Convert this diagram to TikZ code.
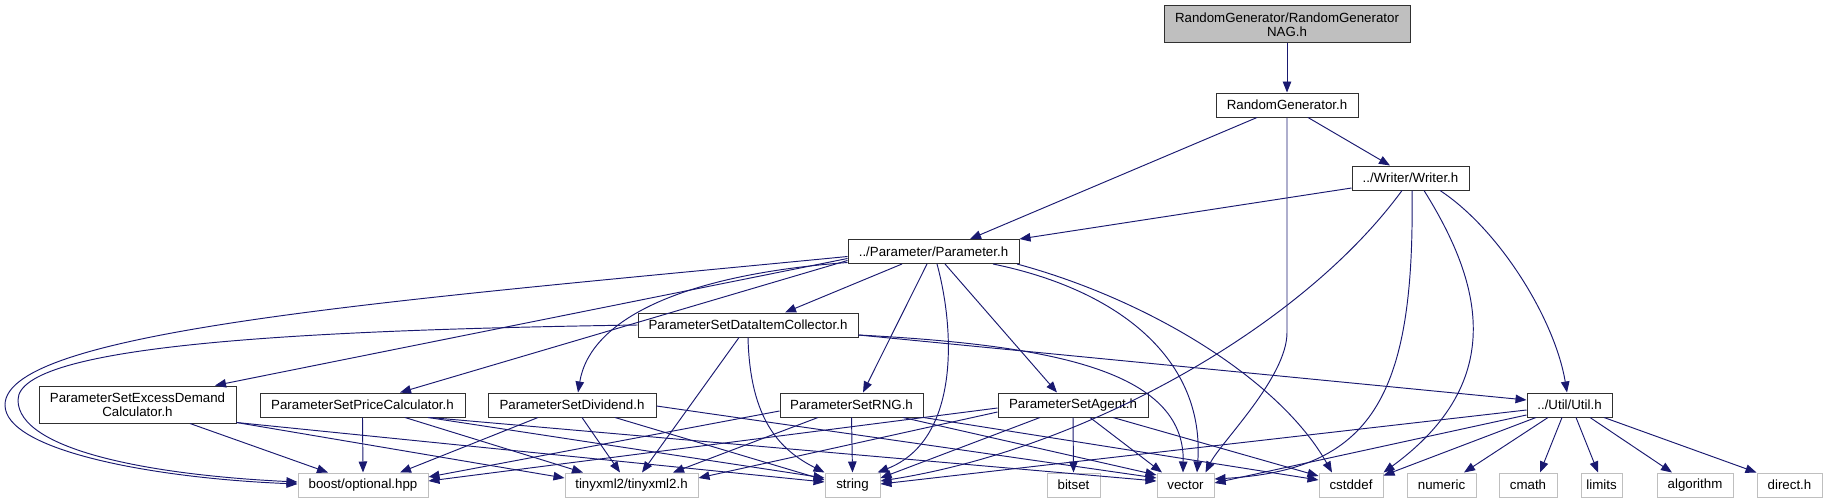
\documentclass[tikz,border=0pt]{standalone}
\usepackage{fontspec}
\setmainfont{Liberation Sans}
\usetikzlibrary{arrows.meta}
\definecolor{edgec}{HTML}{191970}
\definecolor{leafc}{HTML}{BFBFBF}
\definecolor{boxc}{HTML}{303030}
\begin{document}
\begin{tikzpicture}[x=1pt,y=-1pt,
  box/.style={draw=boxc, line width=1pt, fill=white, inner sep=0pt, minimum height=24pt,
    font=\fontsize{13.3}{14.2}\selectfont, align=center},
  leaf/.style={box, draw=leafc},
  dep/.style={draw=edgec, line width=0.95pt, -{Triangle[length=11pt,width=8.5pt]}},
]
\useasboundingbox (0,0) rectangle (1827,503);
% nodes
\node[box, fill=leafc, minimum width=246pt, minimum height=37pt] (nag) at (1287,24.5) {RandomGenerator/RandomGenerator\\NAG.h};
\node[box, minimum width=142pt] (rg) at (1287,105) {RandomGenerator.h};
\node[box, minimum width=117pt] (writer) at (1410.5,178) {../Writer/Writer.h};
\node[box, minimum width=171pt] (param) at (933.5,251.5) {../Parameter/Parameter.h};
\node[box, minimum width=220pt] (dic) at (748,325) {ParameterSetDataItemCollector.h};
\node[box, minimum width=197pt, minimum height=37pt] (excess) at (137.5,404.5) {ParameterSetExcessDemand\\Calculator.h};
\node[box, minimum width=205pt] (price) at (362.5,405) {ParameterSetPriceCalculator.h};
\node[box, minimum width=168pt] (divid) at (572,405) {ParameterSetDividend.h};
\node[box, minimum width=143pt] (rng) at (851.5,405) {ParameterSetRNG.h};
\node[box, minimum width=150pt] (agent) at (1073,405) {ParameterSetAgent.h};
\node[box, minimum width=85pt] (util) at (1569.5,405) {../Util/Util.h};
\node[leaf, minimum width=130pt] (boost) at (363,485) {boost/optional.hpp};
\node[leaf, minimum width=133pt] (tiny) at (631.5,485) {tinyxml2/tinyxml2.h};
\node[leaf, minimum width=55pt] (string) at (852.5,485) {string};
\node[leaf, minimum width=53pt] (bitset) at (1073.5,485) {bitset};
\node[leaf, minimum width=57pt] (vector) at (1185.5,485) {vector};
\node[leaf, minimum width=64pt] (cstddef) at (1351,485) {cstddef};
\node[leaf, minimum width=69pt] (numeric) at (1441.5,485) {numeric};
\node[leaf, minimum width=58pt] (cmath) at (1528,485) {cmath};
\node[leaf, minimum width=41pt] (limits) at (1601.5,485) {limits};
\node[leaf, minimum width=76pt] (algorithm) at (1695,485) {algorithm};
\node[leaf, minimum width=65pt] (direct) at (1789.5,485) {direct.h};
% edges
\draw[dep] (nag) -- (rg);
\draw[dep] ([xshift=-30pt]rg.south) -- ([xshift=36.5pt]param.north);
\draw[dep] ([xshift=21pt]rg.south) -- ([xshift=-20.5pt]writer.north);
\draw[dep] (rg.south) -- ++(0,215) .. controls +(0,45) and +(15,-30) .. ([xshift=20pt]vector.north);
\draw[dep] ([yshift=-10pt]writer.west) -- (param.north east);
\draw[dep] ([xshift=-8.5pt]writer.south) .. controls (1300,330) and (1080,450) .. ([yshift=4pt]string.east);
\draw[dep] ([xshift=1.5pt]writer.south) .. controls (1415,400) and (1370,470) .. ([yshift=6pt]vector.east);
\draw[dep] ([xshift=13.5pt]writer.south) .. controls (1480,280) and (1510,380) .. (cstddef.north east);
\draw[dep] ([xshift=29.5pt]writer.south) .. controls (1500,230) and (1555,320) .. ([xshift=-2.5pt]util.north);
% parameter
\draw[dep] ([yshift=-5pt]param.west) .. controls (400,300) and (5,330) .. (5,405) .. controls (5,450) and (150,478) .. ([yshift=1pt]boost.west);
\draw[dep] ([yshift=-7pt]param.west) -- ([xshift=77.5pt]excess.north);
\draw[dep] ([yshift=-9pt]param.west) -- ([xshift=37.5pt]price.north);
\draw[dep] ([yshift=-11pt]param.west) .. controls (680,275) and (590,320) .. ([xshift=6pt]divid.north);
\draw[dep] ([xshift=-31.5pt]param.south) -- ([xshift=37pt]dic.north);
\draw[dep] ([xshift=-6.5pt]param.south) -- ([xshift=11.5pt]rng.north);
\draw[dep] ([xshift=3.5pt]param.south) .. controls (955,330) and (960,440) .. ([xshift=-3pt]string.north east);
\draw[dep] ([xshift=11.5pt]param.south) -- ([xshift=-16pt]agent.north);
\draw[dep] ([xshift=59.5pt]param.south) .. controls (1120,290) and (1205,360) .. ([xshift=11.5pt]vector.north);
\draw[dep] ([xshift=83.5pt]param.south) .. controls (1150,300) and (1280,380) .. ([xshift=-19pt]cstddef.north);
% data item collector
\draw[dep] (dic.west) .. controls (300,330) and (18,345) .. (18,400) .. controls (18,450) and (150,475) .. ([yshift=3pt]boost.west);
\draw[dep] ([xshift=-9pt]dic.south) -- ([xshift=10.5pt]tiny.north);
\draw[dep] (dic.south) .. controls (750,420) and (780,450) .. (string.north west);
\draw[dep] ([yshift=-10pt]dic.east) .. controls (1050,345) and (1185,370) .. ([xshift=-2.5pt]vector.north);
\draw[dep] ([yshift=-10pt]dic.east) -- ([yshift=5pt]util.west);
% excess demand
\draw[dep] ([xshift=52.5pt]excess.south) -- ([xshift=-35pt]boost.north);
\draw[dep] ([yshift=1pt]excess.south east) -- ([yshift=7pt]tiny.west);
\draw[dep] ([yshift=1pt]excess.south east) -- ([yshift=3pt]string.west);
% price
\draw[dep] (price.south) -- (boost.north);
\draw[dep] ([xshift=42.5pt]price.south) -- ([xshift=-48.5pt]tiny.north);
\draw[dep] ([xshift=65.5pt]price.south) -- ([yshift=7pt]string.west);
\draw[dep] ([xshift=67.5pt]price.south) -- ([yshift=4pt]vector.west);
% dividend
\draw[dep] ([xshift=-34pt]divid.south) -- ([xshift=37pt]boost.north);
\draw[dep] ([xshift=10pt]divid.south) -- ([xshift=-11.5pt]tiny.north);
\draw[dep] ([xshift=43pt]divid.south) -- ([yshift=5pt]string.west);
\draw[dep] ([yshift=-1pt]divid.east) -- ([yshift=7pt]vector.west);
% rng
\draw[dep] ([yshift=-6pt]rng.west) -- ([yshift=8pt]boost.east);
\draw[dep] ([xshift=-33.5pt]rng.south) -- ([xshift=41.5pt]tiny.north);
\draw[dep] (rng.south) -- (string.north);
\draw[dep] ([xshift=51.5pt]rng.south) -- ([yshift=10pt]vector.west);
\draw[dep] (rng.south east) -- ([yshift=5pt]cstddef.west);
% agent
\draw[dep] ([yshift=-3pt]agent.west) -- ([yshift=4pt]boost.east);
\draw[dep] ([yshift=-7pt]agent.west) -- ([yshift=7pt]tiny.east);
\draw[dep] ([xshift=-33pt]agent.south) -- ([yshift=7pt]string.east);
\draw[dep] (agent.south) -- (bitset.north);
\draw[dep] ([xshift=17pt]agent.south) -- ([xshift=-23.5pt]vector.north);
\draw[dep] ([xshift=40pt]agent.south) -- ([yshift=9pt]cstddef.west);
% util
\draw[dep] ([yshift=-5pt]util.west) -- ([yshift=1pt]string.east);
\draw[dep] ([yshift=-10pt]util.west) -- ([yshift=2pt]vector.east);
\draw[dep] ([xshift=-33.5pt]util.south) -- ([yshift=-3pt]cstddef.north east);
\draw[dep] ([xshift=-21.5pt]util.south) -- ([xshift=22.5pt]numeric.north);
\draw[dep] ([xshift=-7.5pt]util.south) -- ([xshift=12pt]cmath.north);
\draw[dep] ([xshift=6.5pt]util.south) -- ([xshift=-3.5pt]limits.north);
\draw[dep] ([xshift=20.5pt]util.south) -- ([xshift=-23pt]algorithm.north);
\draw[dep] ([xshift=34.5pt]util.south) -- (direct.north west);
\end{tikzpicture}
\end{document}
